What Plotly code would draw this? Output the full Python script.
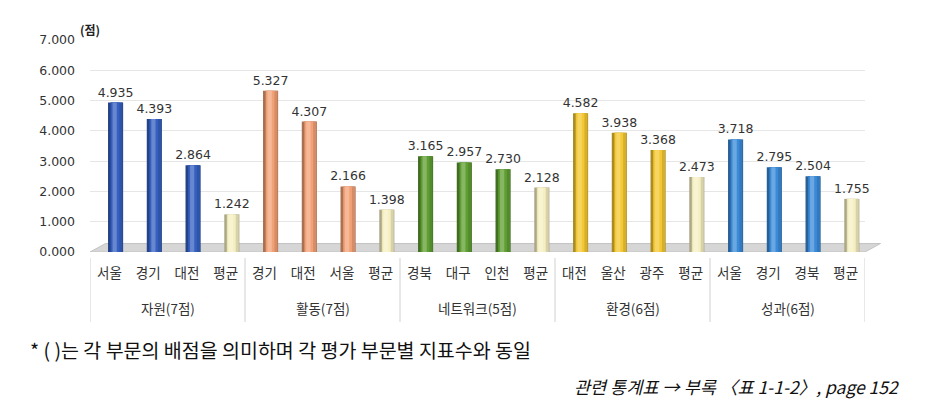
import plotly.graph_objects as go

# ---------------- data ----------------
groups = ["자원(7점)", "활동(7점)", "네트워크(5점)", "환경(6점)", "성과(6점)"]
categories = [
    ["서울", "경기", "대전", "평균"],
    ["경기", "대전", "서울", "평균"],
    ["경북", "대구", "인천", "평균"],
    ["대전", "울산", "광주", "평균"],
    ["서울", "경기", "경북", "평균"],
]
values = [
    [4.935, 4.393, 2.864, 1.242],
    [5.327, 4.307, 2.166, 1.398],
    [3.165, 2.957, 2.730, 2.128],
    [4.582, 3.938, 3.368, 2.473],
    [3.718, 2.795, 2.504, 1.755],
]
y_ticks = [0, 1, 2, 3, 4, 5, 6, 7]

# ---------------- styles ----------------
group_colors = ["#3560c0", "#f2a176", "#5f9e32", "#f4c832", "#3a8ad8"]
avg_color = "#f6efc2"


def hex_to_rgb(h):
    h = h.lstrip("#")
    return tuple(int(h[i:i + 2], 16) for i in (0, 2, 4))


def mix(h, t, amt):
    r, g, b = hex_to_rgb(h)
    tr, tg, tb = t
    return "rgb(%d,%d,%d)" % (r + (tr - r) * amt, g + (tg - g) * amt, b + (tb - b) * amt)


def dark(h, a):
    return mix(h, (0, 0, 0), a)


def light(h, a):
    return mix(h, (255, 255, 255), a)


x_pos, x_text, y_vals, base_cols = [], [], [], []
group_centers, group_edges = [], [-0.5]
idx = 0
for g, cats, vals, col in zip(groups, categories, values, group_colors):
    start = idx
    for c, v in zip(cats, vals):
        x_pos.append(idx)
        x_text.append(c)
        y_vals.append(v)
        base_cols.append(avg_color if c == "평균" else col)
        idx += 1
    group_centers.append((start + idx - 1) / 2)
    group_edges.append(idx - 0.5)

W = 0.39
OFF = 0.16  # 3D perspective shift to the right

fig = go.Figure()

layers = [
    (1.00, 0.00, [dark(c, 0.30) for c in base_cols]),
    (0.80, 0.06, [dark(c, 0.12) for c in base_cols]),
    (0.55, -0.02, [c for c in base_cols]),
    (0.28, -0.06, [light(c, 0.25) for c in base_cols]),
]
for i, (wf, shift, cols) in enumerate(layers):
    w = W * wf
    center = OFF + shift * W
    fig.add_trace(go.Bar(
        x=x_pos, y=y_vals,
        width=[w] * len(y_vals),
        offset=[center - w / 2] * len(y_vals),
        marker=dict(color=cols, line=dict(width=0)),
        text=[f"{v:.3f}" for v in y_vals] if i == 0 else None,
        textposition="outside" if i == 0 else "none",
        constraintext="none",
        textfont=dict(size=12.5, color="#333333", family="DejaVu Sans"),
        cliponaxis=False,
        hoverinfo="skip",
        showlegend=False,
    ))

# 3D-like floor
fig.add_shape(type="path", xref="paper", yref="y",
              path="M 0,0 L 1,0 L 1.02,0.28 L 0.02,0.28 Z",
              fillcolor="#d6d6d6", line=dict(color="#c4c4c4", width=1), layer="below")

# group dividers
for e in group_edges:
    fig.add_shape(type="line", xref="x", yref="paper", x0=e, x1=e,
                  y0=0, y1=0, line=dict(color="#d0d0d0", width=1))

annotations = [
    dict(text="<b>(점)</b>", xref="paper", yref="paper", x=0, y=1,
         xanchor="left", yanchor="bottom", xshift=-12, yshift=0, showarrow=False,
         font=dict(size=12, family="Noto Sans CJK KR", color="#222222")),
    dict(text="* ( )는 각 부문의 배점을 의미하며 각 평가 부문별 지표수와 동일",
         xref="paper", yref="paper", x=0, y=0, xanchor="left", yanchor="middle",
         xshift=-62, yshift=-97, showarrow=False,
         font=dict(size=19.5, family="Noto Sans CJK KR", color="#111111")),
    dict(text="<i>관련 통계표 → 부록 〈표 1-1-2〉, page 152</i>",
         xref="paper", yref="paper", x=1, y=0, xanchor="right", yanchor="middle",
         xshift=37, yshift=-134, showarrow=False,
         font=dict(size=17.5, family="Noto Sans CJK KR", color="#111111")),
]
for g, cx in zip(groups, group_centers):
    annotations.append(dict(text=g, xref="x", yref="paper", x=cx, y=0,
                            xanchor="center", yanchor="middle", yshift=-56,
                            showarrow=False,
                            font=dict(size=13.5, family="Noto Sans CJK KR", color="#333333")))

fig.update_layout(
    width=950, height=403,
    margin=dict(l=90, r=85, t=40, b=151),
    paper_bgcolor="white", plot_bgcolor="white",
    barmode="overlay",
    font=dict(family="Noto Sans CJK KR", size=13, color="#333333"),
    xaxis=dict(
        range=[-0.5, len(x_pos) - 0.5],
        tickvals=x_pos, ticktext=x_text,
        showgrid=False, zeroline=False, showline=False, ticks="",
        tickfont=dict(size=13.5, family="Noto Sans CJK KR", color="#333333"),
        ticklabelstandoff=11,
    ),
    yaxis=dict(
        range=[0, 7], tickvals=y_ticks, tickformat=".3f",
        showgrid=True, gridcolor="#e6e6e6", gridwidth=1,
        zeroline=False, showline=False,
        tickfont=dict(size=12.5, family="DejaVu Sans", color="#333333"),
        ticklabelstandoff=14,
    ),
    annotations=annotations,
)

# make divider lines extend below the axis (pixel-based via paper coords)
plot_h = 403 - 40 - 151
for s in fig.layout.shapes[1:]:
    s.y0 = -6 / plot_h
    s.y1 = -70 / plot_h

fig.write_html("out.html")
